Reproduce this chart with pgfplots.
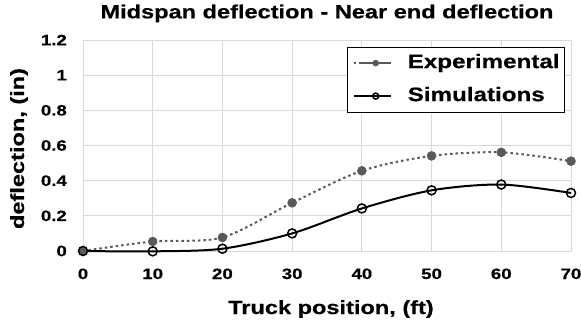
\documentclass[border=0pt]{standalone}
\usepackage{fontspec}
\setmainfont{Liberation Sans}[FakeStretch=1.24, BoldFeatures={FakeBold=0.5}]
\usepackage{pgfplots}
\pgfplotsset{compat=1.18}
\definecolor{expgray}{HTML}{595959}
\definecolor{gridgray}{HTML}{D9D9D9}
\begin{document}
\begin{tikzpicture}
\useasboundingbox (-83pt,-73pt) rectangle (498pt,251pt);
\begin{axis}[
  at={(0pt,0pt)}, anchor=south west,
  scale only axis, width=488pt, height=211pt,
  xmin=0, xmax=70, ymin=0, ymax=1.2,
  xtick={0,10,20,30,40,50,60,70},
  xticklabels={0,10,20,30,40,50,60,70},
  ytick={0,0.2,0.4,0.6,0.8,1,1.2},
  yticklabels={0,0.2,0.4,0.6,0.8,1,1.2},
  major tick length=0pt,
  grid=major,
  major grid style={gridgray, line width=0.8pt},
  axis line style={gridgray, line width=0.8pt},
  xticklabel style={font=\fontsize{15}{18}\selectfont\bfseries, anchor=base, inner sep=0pt, yshift=-28pt},
  yticklabel style={font=\fontsize{15}{18}\selectfont\bfseries, anchor=east, inner sep=0pt, xshift=-16pt},
  every axis title/.style={at={(axis description cs:0.5,1)}, anchor=base, yshift=21.7pt, inner sep=0pt, font=\fontsize{19}{22}\selectfont\bfseries},
  title={Midspan deflection - Near end deflection},
  xlabel={Truck position, (ft)},
  xlabel style={font=\fontsize{19}{22}\selectfont\bfseries, at={([xshift=4pt,yshift=-63pt]axis description cs:0.5,0)}, anchor=base, inner sep=0pt},
  ylabel={deflection, (in)},
  ylabel style={font=\fontsize{19}{22}\selectfont\bfseries, at={([xshift=-59pt,yshift=-3pt]axis description cs:0,0.5)}, anchor=base, inner sep=0pt},
  clip=false,
  legend style={at={([xshift=-6pt,yshift=-6.7pt]rel axis cs:1,1)}, anchor=north east,
    draw=black, line width=0.8pt, fill=white,
    font=\fontsize{19.5}{23}\selectfont\bfseries,
    inner xsep=5pt, inner ysep=7pt, row sep=15pt, column sep=16pt,
    nodes={inner sep=0pt, text height=14pt, text depth=4pt}},
  legend cell align=left,
  legend image code/.code={\path (0pt,0pt) -- (37pt,0pt);
    \draw[#1, dash pattern={on 60pt off 0pt}] (7pt,0pt) -- (37pt,0pt);
    \draw[#1, mark size=3pt] plot coordinates {(22pt,0pt)};},
]
\addplot[expgray, line width=2pt, dash pattern=on 2.5pt off 3pt, smooth, tension=0.5,
  mark=*, mark size=4.5pt, mark options={solid, fill=expgray, draw=expgray, line width=0.5pt}]
  coordinates {(0,0) (10,0.054) (20,0.077) (30,0.274) (40,0.456) (50,0.541) (60,0.561) (70,0.511)};
\addlegendentry{Experimental}
\addplot[black, line width=2pt, smooth, tension=0.5,
  mark=o, mark size=4.5pt, mark options={solid, fill=white, draw=black, line width=1.5pt}]
  coordinates {(0,0) (10,-0.002) (20,0.013) (30,0.10) (40,0.242) (50,0.345) (60,0.378) (70,0.33)};
\addlegendentry{Simulations}
\end{axis}
\end{tikzpicture}
\end{document}
